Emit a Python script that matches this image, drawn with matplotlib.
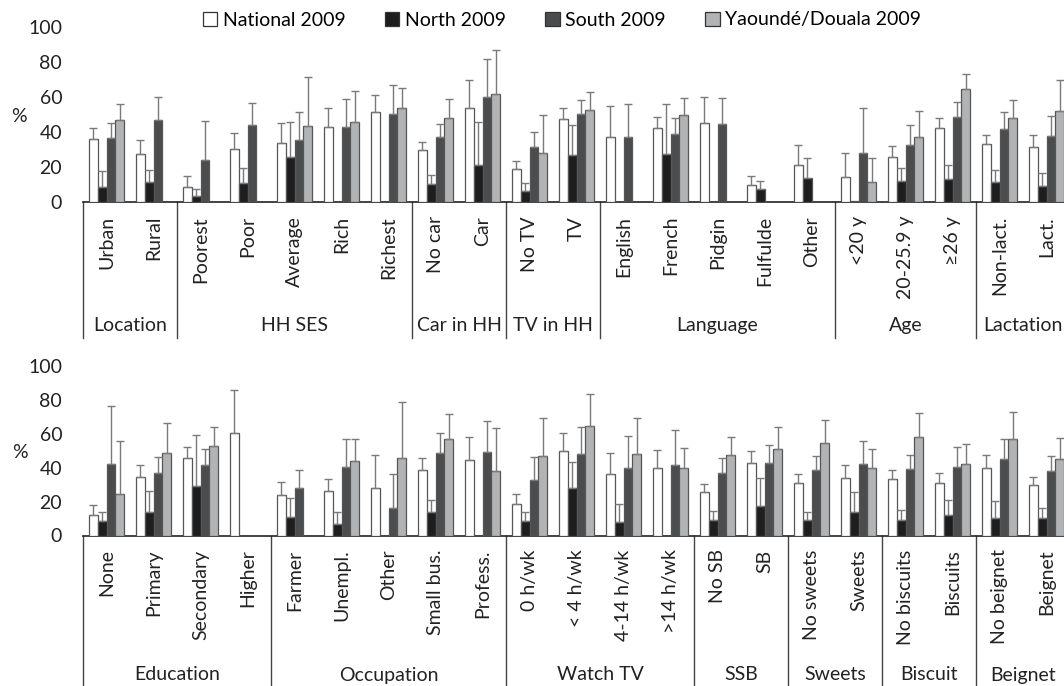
import numpy as np
import matplotlib
matplotlib.use('Agg')
import matplotlib.pyplot as plt
import matplotlib.transforms as mtransforms
from matplotlib.patches import Patch

plt.rcParams['font.family'] = ['Lato', 'DejaVu Sans']

series    = ['National 2009', 'North 2009', 'South 2009', 'Yaoundé/Douala 2009']
colors    = ['#ffffff', '#1e1e1e', '#4b4c4e', '#b2b3b5']
nan       = np.nan

# ---- top panel
top_cats   = ['Urban', 'Rural', 'Poorest', 'Poor', 'Average', 'Rich', 'Richest',
              'No car', 'Car', 'No TV', 'TV', 'English', 'French', 'Pidgin',
              'Fulfulde', 'Other', '<20 y', '20-25.9 y', '≥26 y', 'Non-lact.', 'Lact.']
top_groups = [('Location', 0, 1), ('HH SES', 2, 6), ('Car in HH', 7, 8), ('TV in HH', 9, 10),
              ('Language', 11, 15), ('Age', 16, 18), ('Lactation', 19, 20)]
top_nat    = [36.2, 27.4, 8.8, 30.5, 33.7, 42.7, 51.4, 29.9, 53.7, 18.9, 47.4, 37.1, 42.3, 45.1, 9.7, 21.1, 14.3, 25.9, 42.3, 33.1, 31.4]
top_nat_hi = [42.3, 35.4, 14.9, 39.4, 45.1, 53.7, 61.0, 34.1, 69.7, 23.4, 53.5, 54.7, 48.4, 59.8, 14.7, 32.6, 28.0, 32.2, 48.0, 38.3, 38.5]
top_nor    = [8.6, 11.2, 3.6, 10.7, 25.7, nan, nan, 10.3, 21.0, 6.3, 26.7, nan, 27.6, nan, 7.6, 13.5, 0.6, 11.8, 13.0, 11.2, 9.0]
top_nor_hi = [17.5, 18.3, 7.6, 19.2, 45.7, nan, nan, 15.4, 45.9, 10.9, 43.8, nan, 55.8, nan, 12.2, 25.3, nan, 19.4, 21.1, 18.1, 16.6]
top_sou    = [36.8, 46.9, 24.2, 44.2, 35.6, 43.0, 50.3, 37.3, 60.0, 31.6, 50.3, 37.0, 38.7, 44.6, nan, nan, 28.0, 32.8, 48.4, 41.9, 37.9]
top_sou_hi = [45.3, 60.0, 46.3, 56.6, 51.4, 58.9, 66.9, 44.4, 81.5, 40.0, 58.3, 55.8, 47.8, 59.6, nan, nan, 53.7, 43.8, 57.1, 51.2, 49.3]
top_yd     = [47.0, nan, nan, nan, 43.4, 45.7, 53.5, 48.0, 61.5, 28.0, 52.6, nan, 49.5, nan, nan, nan, 11.4, 37.1, 64.6, 48.2, 52.0]
top_yd_hi  = [56.0, nan, nan, nan, 71.2, 63.6, 65.3, 58.7, 87.0, 49.5, 62.7, nan, 59.4, nan, nan, nan, 25.0, 51.8, 73.3, 58.1, 69.5]

# ---- bottom panel
bot_cats   = ['None', 'Primary', 'Secondary', 'Higher', 'Farmer', 'Unempl.', 'Other',
              'Small bus.', 'Profess.', '0 h/wk', '< 4 h/wk', '4-14 h/wk', '>14 h/wk',
              'No SB', 'SB', 'No sweets', 'Sweets', 'No biscuits', 'Biscuits',
              'No beignet', 'Beignet']
bot_groups = [('Education', 0, 3), ('Occupation', 4, 8), ('Watch TV', 9, 12), ('SSB', 13, 14),
              ('Sweets', 15, 16), ('Biscuit', 17, 18), ('Beignet', 19, 20)]
bot_nat    = [11.8, 34.8, 45.8, 60.7, 23.8, 26.1, 27.9, 38.7, 44.4, 18.5, 49.9, 36.5, 39.9, 25.9, 42.8, 31.2, 33.8, 33.6, 30.8, 39.7, 29.5]
bot_nat_hi = [17.7, 41.8, 52.5, 85.7, 31.8, 33.4, 47.7, 45.6, 58.3, 24.2, 60.3, 48.5, 50.5, 30.3, 50.1, 36.0, 41.7, 38.5, 37.1, 47.5, 34.4]
bot_nor    = [8.3, 14.1, 29.3, nan, 11.0, 6.9, nan, 13.8, nan, 8.3, 28.1, 8.1, nan, 9.2, 17.3, 9.2, 13.8, 9.0, 12.0, 10.6, 10.4]
bot_nor_hi = [13.8, 26.1, 59.3, nan, 22.4, 14.1, nan, 21.2, nan, 13.6, 43.6, 18.5, nan, 14.5, 34.2, 14.1, 25.5, 14.9, 20.8, 20.2, 16.1]
bot_sou    = [42.0, 36.7, 41.8, nan, 28.1, 40.7, 16.1, 48.5, 49.5, 32.6, 47.9, 39.9, 41.7, 37.1, 42.6, 38.5, 42.0, 39.5, 40.3, 45.2, 37.9]
bot_sou_hi = [76.4, 46.6, 51.3, nan, 38.9, 57.0, 36.0, 60.3, 67.8, 46.6, 64.2, 58.9, 62.5, 46.0, 53.2, 47.0, 56.0, 47.2, 52.1, 57.0, 46.8]
bot_yd     = [24.4, 48.5, 52.8, nan, nan, 44.0, 45.6, 56.8, 38.3, 46.8, 64.6, 47.9, 39.7, 47.3, 51.3, 54.6, 39.7, 58.0, 42.0, 56.8, 45.0]
bot_yd_hi  = [55.6, 66.2, 64.2, nan, nan, 57.2, 78.8, 71.5, 63.3, 69.4, 83.3, 69.5, 51.5, 58.3, 64.2, 68.2, 50.9, 72.1, 54.2, 73.1, 57.4]

fig = plt.figure(figsize=(10.64, 6.86), dpi=100)

W, H   = 1064., 686.
x0     = 83.
pitch  = 47.
bw     = 0.186

def panel(y0, y100, cats, groups, vals, his, sep_len, grp_y):
    ax = fig.add_axes([x0 / W, 1 - y0 / H, 21 * pitch / W, (y0 - y100) / H])
    x = np.arange(len(cats))
    for k in range(4):
        v  = np.array(vals[k], dtype=float)
        hi = np.array(his[k], dtype=float)
        pos = x + (k - 1.5) * bw
        ax.bar(pos, v, width=bw, color=colors[k], edgecolor='#555555', linewidth=0.9, zorder=3)
        up = hi - v
        ok = ~np.isnan(up)
        ax.errorbar(pos[ok], v[ok], yerr=[np.zeros(ok.sum()), up[ok]], fmt='none',
                    ecolor='#7a7a7a', elinewidth=1, capsize=3, capthick=1, zorder=4, clip_on=False)
    ax.set_xlim(-0.5, len(cats) - 0.5)
    ax.set_ylim(0, 100)
    ax.set_yticks([0, 20, 40, 60, 80, 100])
    ax.tick_params(axis='y', length=0, pad=15, labelsize=14, labelcolor='#222222')
    ax.set_xticks(x)
    ax.set_xticklabels(cats, rotation=90, va='top', ha='center', fontsize=14, color='#222222')
    ax.tick_params(axis='x', length=0, pad=10)
    for s in ['top', 'right', 'left']:
        ax.spines[s].set_visible(False)
    ax.spines['bottom'].set_color('#222222')
    ax.spines['bottom'].set_linewidth(1.2)
    ax.set_facecolor('none')

    trans = mtransforms.blended_transform_factory(ax.transData, ax.transAxes)
    bounds = [-0.5] + [g[2] + 0.5 for g in groups]
    for b in bounds:
        ax.plot([b, b], [0, -sep_len], transform=trans, color='#444444', lw=1, clip_on=False)
    for name, a, b in groups:
        ax.text((a + b) / 2., grp_y, name, transform=trans, ha='center', va='center',
                fontsize=14, color='#222222', clip_on=False)
    return ax

ax1 = panel(202., 27., top_cats, top_groups,
            [top_nat, top_nor, top_sou, top_yd],
            [top_nat_hi, top_nor_hi, top_sou_hi, top_yd_hi],
            136. / 175., -124. / 175.)
ax2 = panel(535.5, 366., bot_cats, bot_groups,
            [bot_nat, bot_nor, bot_sou, bot_yd],
            [bot_nat_hi, bot_nor_hi, bot_sou_hi, bot_yd_hi],
            151. / 169.5, -139.5 / 169.5)

fig.text(19 / W, 1 - 116 / H, '%', fontsize=14, ha='center', va='center', color='#222222')
fig.text(20 / W, 1 - 452 / H, '%', fontsize=14, ha='center', va='center', color='#222222')

handles = [Patch(facecolor=c, edgecolor='#333333', linewidth=0.9) for c in colors]
fig.legend(handles, series, loc='center', bbox_to_anchor=(562 / W, 1 - 20 / H), ncol=4,
           frameon=False, fontsize=14, handlelength=0.75, handleheight=0.75,
           handletextpad=0.3, columnspacing=2.0, borderaxespad=0)

fig.savefig('out.png', dpi=100)
